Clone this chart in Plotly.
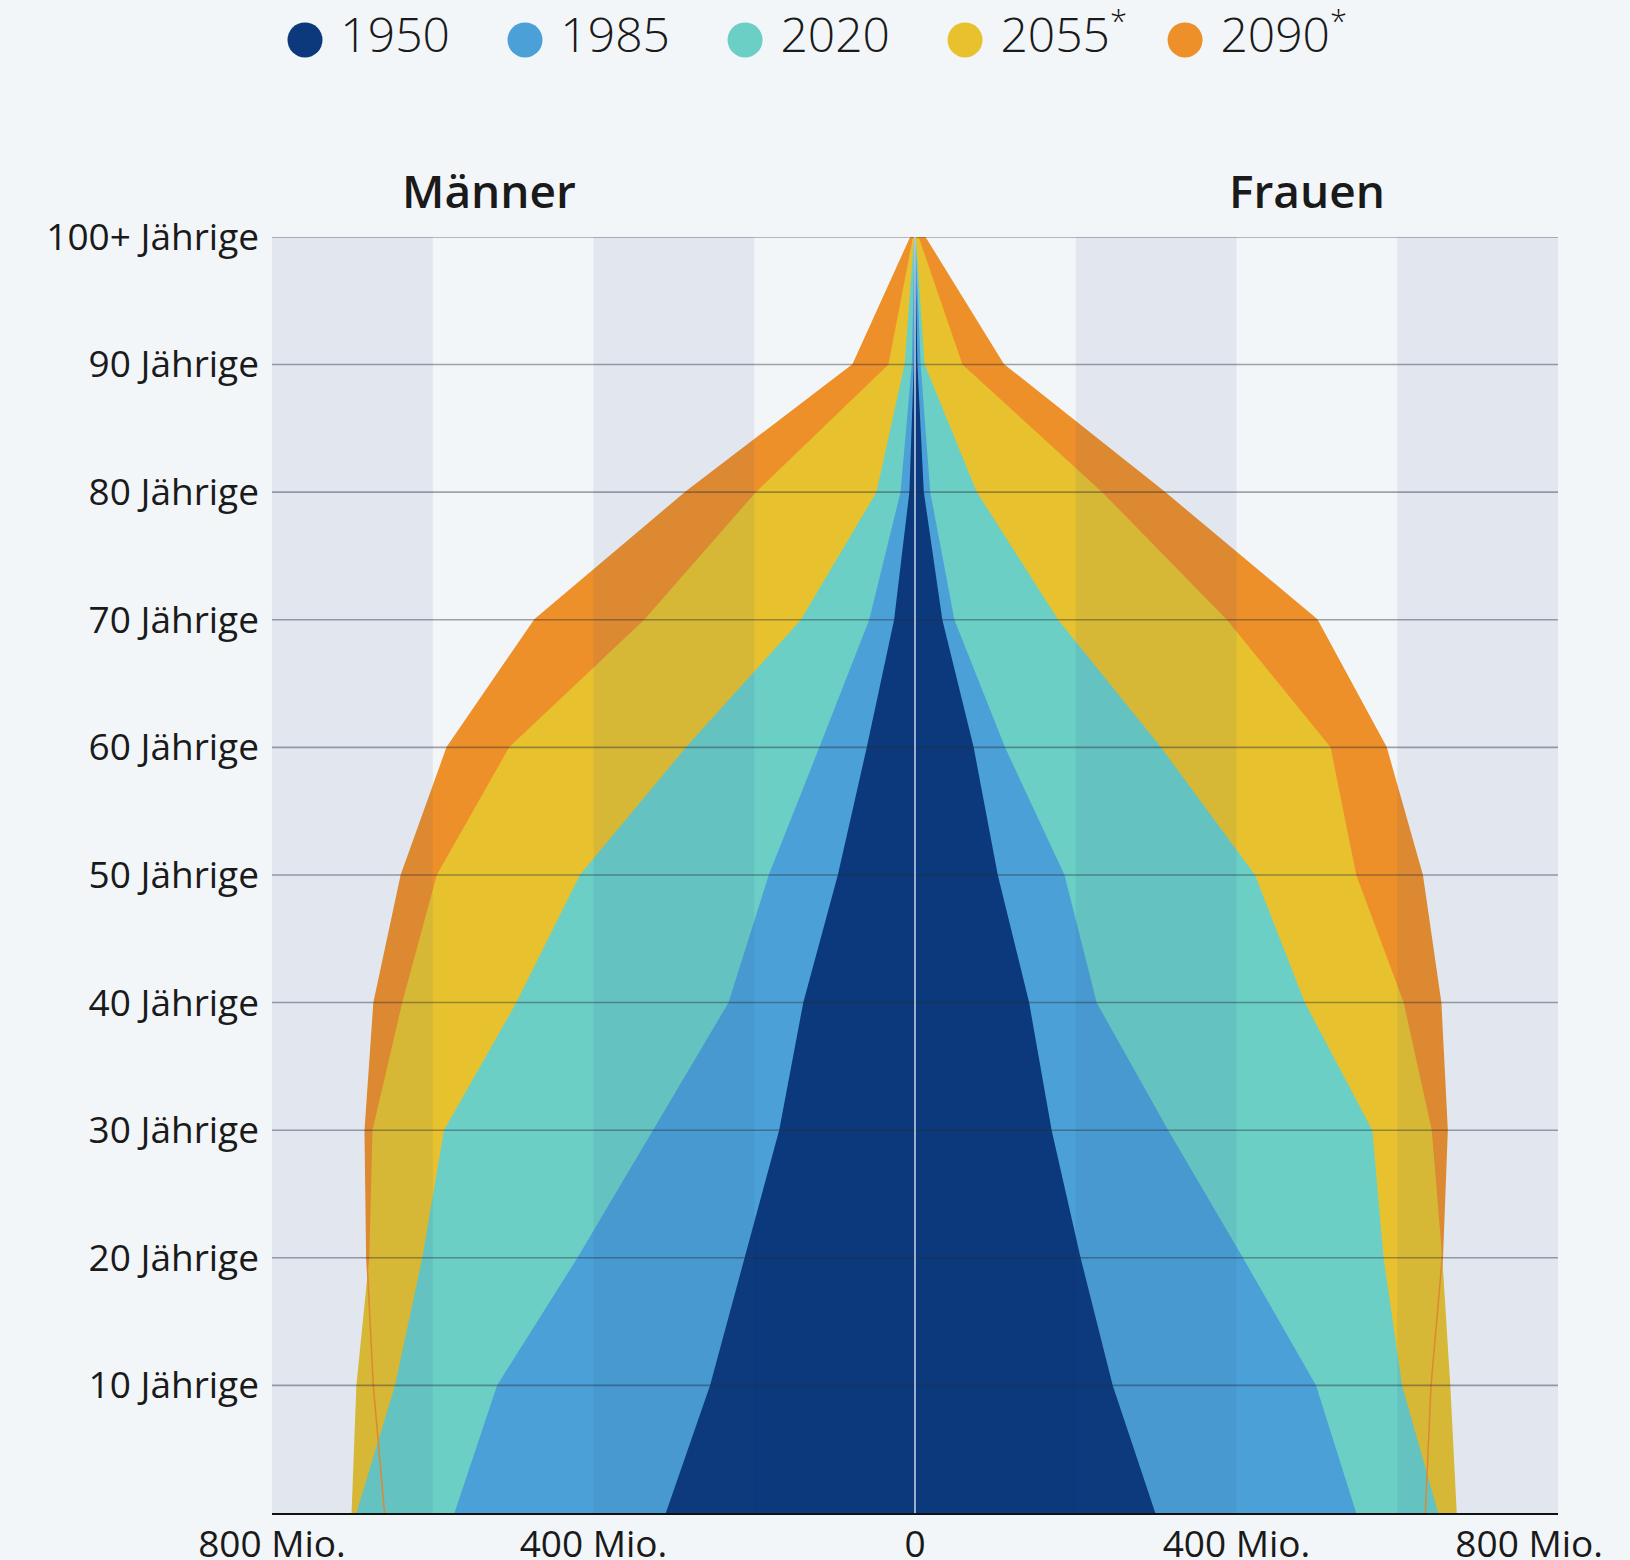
import plotly.graph_objects as go

# ---------------- data ----------------
ages = [0, 10, 20, 30, 40, 50, 60, 70, 80, 90, 100]
age_tick_vals = [10, 20, 30, 40, 50, 60, 70, 80, 90, 100]
age_tick_text = ["10 Jährige", "20 Jährige", "30 Jährige", "40 Jährige", "50 Jährige",
                 "60 Jährige", "70 Jährige", "80 Jährige", "90 Jährige", "100+ Jährige"]

x_tick_vals = [-800, -400, 0, 400, 800]
x_tick_text = ["800 Mio.", "400 Mio.", "0", "400 Mio.", "800 Mio.\u00a0\u00a0\u00a0\u00a0\u00a0\u00a0"]

years = ["1950", "1985", "2020", "2055", "2090"]
year_labels = ["1950", "1985", "2020",
               "2055<sup><span style='font-size:31px'>*</span></sup>",
               "2090<sup><span style='font-size:31px'>*</span></sup>"]

# population in millions (men shown to the left)
men_1950 = [310, 255, 212, 169, 139, 96, 60, 26, 7, 1.5, 0.3]
men_1985 = [573, 520, 420, 326, 232, 182, 119, 57, 18, 4, 0.5]
men_2020 = [695, 647, 613, 586, 496, 417, 285, 142, 48, 13, 1]
men_2055 = [701, 695, 679, 675, 638, 595, 505, 337, 198, 33, 2.5]
men_2090 = [660, 674, 682, 684, 673, 639, 582, 473, 285, 77, 5]

women_1950 = [299, 246, 206, 170, 142, 103, 73, 34, 11, 3, 0.3]
women_1985 = [549, 499, 408, 315, 226, 186, 112, 49, 19, 7, 0.5]
women_2020 = [651, 606, 583, 569, 485, 423, 306, 178, 77, 12, 1]
women_2055 = [674, 666, 656, 643, 608, 549, 517, 388, 233, 59, 4.5]
women_2090 = [635, 642, 656, 662, 654, 631, 586, 500, 310, 110, 12]

men = {"1950": men_1950, "1985": men_1985, "2020": men_2020, "2055": men_2055, "2090": men_2090}
women = {"1950": women_1950, "1985": women_1985, "2020": women_2020, "2055": women_2055, "2090": women_2090}

# ---------------- styles ----------------
colors = {"1950": "#0b397c", "1985": "#4ba1d7", "2020": "#6bcfc6", "2055": "#e8c22e", "2090": "#ee9029"}
bg = "#f3f6f9"
text_color = "#1a1a1a"
font_family = "Open Sans, Noto Sans, sans-serif"
stripe_bands = [(-800, -600), (-400, -200), (200, 400), (600, 800)]


def outline(year):
    xs = [-v for v in men[year]] + women[year][::-1]
    ys = ages + ages[::-1]
    return xs, ys


fig = go.Figure()

# areas, back to front
for year in ["2090", "2055", "2020", "1985", "1950"]:
    xs, ys = outline(year)
    fig.add_trace(go.Scatter(
        x=xs, y=ys, mode="none", fill="toself", fillcolor=colors[year],
        showlegend=False, hoverinfo="skip", name=year,
    ))

# 2090 outline visible through the front areas
xs, ys = outline("2090")
fig.add_trace(go.Scatter(
    x=xs, y=ys, mode="lines", line=dict(color=colors["2090"], width=1.5),
    showlegend=False, hoverinfo="skip",
))

# legend row as markers + text
fig.add_trace(go.Scatter(
    x=years, y=[0] * len(years), mode="markers+text",
    marker=dict(size=35, color=[colors[y] for y in years]),
    text=["\u00a0" + t for t in year_labels], textposition="middle right",
    textfont=dict(size=48, color=text_color, family=font_family, weight=300),
    xaxis="x2", yaxis="y2", showlegend=False, hoverinfo="skip", cliponaxis=False,
))

shapes = []
for a, b in stripe_bands:
    shapes.append(dict(type="rect", xref="x", yref="y domain", x0=a, x1=b, y0=0, y1=1,
                       fillcolor="rgba(30,70,140,0.085)", line=dict(width=0), layer="above"))
for v in age_tick_vals:
    shapes.append(dict(type="line", xref="x domain", yref="y", x0=0, x1=1, y0=v, y1=v,
                       line=dict(color="rgba(40,45,55,0.42)", width=1.6), layer="above"))
shapes.append(dict(type="line", xref="x", yref="y domain", x0=0, x1=0, y0=0, y1=1,
                   line=dict(color="rgba(205,222,242,0.9)", width=1.6), layer="above"))

fig.update_layout(
    template="none",
    width=1630, height=1560,
    margin=dict(l=272, r=72, t=5, b=47, autoexpand=False),
    paper_bgcolor=bg, plot_bgcolor=bg,
    font=dict(family=font_family, color=text_color, size=37),
    showlegend=False,
    shapes=shapes,
    xaxis=dict(range=[-800, 800], tickvals=x_tick_vals, ticktext=x_tick_text,
               showgrid=False, zeroline=False, showline=True, linecolor="#111111",
               linewidth=2, ticks="", ticklabelstandoff=-2, layer="above traces",
               ticklabeloverflow="allow",
               tickfont=dict(size=37), fixedrange=True, automargin=False),
    yaxis=dict(range=[0, 100], domain=[0, 0.8462], tickvals=age_tick_vals, ticktext=age_tick_text,
               showgrid=False, zeroline=False, showline=False, ticks="",
               ticklabelstandoff=12, tickfont=dict(size=37), fixedrange=True, automargin=False),
    xaxis2=dict(domain=[0, 1], anchor="y2", type="category", range=[-0.15, 5.695],
                visible=False, fixedrange=True, automargin=False),
    yaxis2=dict(domain=[0.9556, 0.998], anchor="x2", range=[-1, 1], visible=False,
                fixedrange=True, automargin=False),
    annotations=[
        dict(text="Männer", xref="paper", yref="paper", x=0.1687, y=0.8773,
             xanchor="center", yanchor="middle", showarrow=False,
             font=dict(size=46, color=text_color, family=font_family, weight=600)),
        dict(text="Frauen", xref="paper", yref="paper", x=0.8048, y=0.8773,
             xanchor="center", yanchor="middle", showarrow=False,
             font=dict(size=46, color=text_color, family=font_family, weight=600)),
    ],
)

fig.write_html(
    "out.html",
    config={"displayModeBar": False},
    post_script="document.body.style.margin='0';document.body.style.overflow='hidden';",
)
